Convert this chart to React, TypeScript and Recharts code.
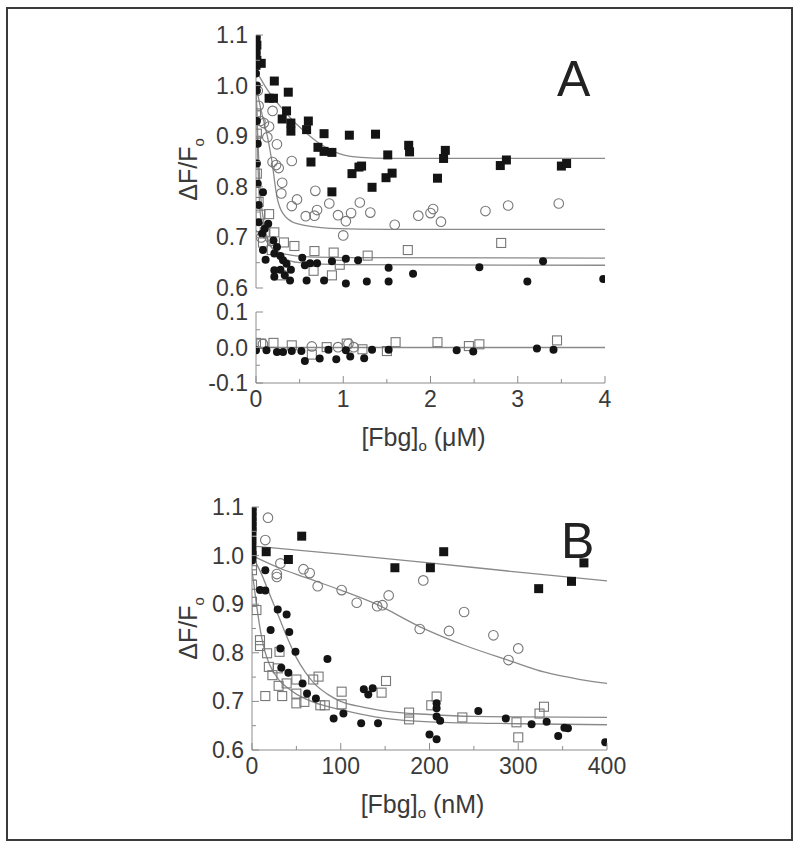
import { ComposedChart, Scatter, Line, XAxis, YAxis } from "recharts"

type Pt = { x: number; y: number }

const AX = "#8c8c8c"
const TXT = "#3a3a3a"
const FONT = "'Liberation Sans', Arial, sans-serif"
const FIT = "#8a8a8a"

const p = (x: number, y: number): Pt => ({ x, y })

// ---- panel A (uM) ----
const aFilledSq = [
  p(0, 1.1), p(0, 1.09), p(0.01, 1.08), p(0, 1.07), p(0, 1.06), p(0.01, 1.05), p(0, 1.04), p(0.06, 1.044),
  p(0.21, 1.009), p(0.15, 0.975), p(0.2, 0.975), p(0.37, 0.987), p(0.35, 0.95), p(0.3, 0.934), p(0.4, 0.926),
  p(0.4, 0.91), p(0.6, 0.93), p(0.58, 0.913), p(0.78, 0.905), p(0.71, 0.878), p(0.78, 0.87), p(0.87, 0.868),
  p(0.63, 0.849), p(1.07, 0.902), p(1.37, 0.904), p(1.1, 0.826), p(1.18, 0.839), p(1.21, 0.841), p(0.87, 0.79),
  p(1.33, 0.799), p(1.51, 0.863), p(1.49, 0.818), p(1.56, 0.827), p(1.75, 0.882), p(1.76, 0.869), p(2.08, 0.817),
  p(2.17, 0.872), p(2.15, 0.856), p(2.8, 0.842), p(2.87, 0.853), p(3.5, 0.841), p(3.56, 0.846),
]
const aOpenCircle = [
  p(0.02, 0.99), p(0.03, 0.96), p(0.05, 0.93), p(0.19, 0.95), p(0.09, 0.926), p(0.15, 0.919), p(0.13, 0.898),
  p(0.24, 0.884), p(0.19, 0.849), p(0.23, 0.843), p(0.26, 0.837), p(0.3, 0.808), p(0.29, 0.787), p(0.41, 0.851),
  p(0.41, 0.762), p(0.47, 0.775), p(0.68, 0.792), p(0.57, 0.742), p(0.67, 0.743), p(0.7, 0.754), p(0.84, 0.767),
  p(0.94, 0.744), p(1.03, 0.732), p(1.09, 0.748), p(1.19, 0.769), p(1.0, 0.704), p(1.31, 0.749), p(1.59, 0.725),
  p(1.86, 0.743), p(2.0, 0.748), p(2.03, 0.756), p(2.12, 0.731), p(2.63, 0.752), p(2.89, 0.763), p(3.47, 0.767),
  p(0.04, 0.72), p(0.06, 0.7),
]
const aOpenSq = [
  p(0, 0.945), p(0.01, 0.905), p(0, 0.89), p(0.01, 0.826), p(0.03, 0.77), p(0.05, 0.745), p(0.15, 0.746),
  p(0.1, 0.71), p(0.21, 0.71), p(0.32, 0.69), p(0.44, 0.683), p(0.67, 0.673), p(0.89, 0.67), p(1.28, 0.664),
  p(1.74, 0.675), p(2.81, 0.689), p(0.66, 0.634), p(0.87, 0.625), p(0.29, 0.625), p(0.96, 0.646), p(0.03, 0.72),
  p(0.08, 0.69), p(0.18, 0.675),
]
const aFilledCircle = [
  p(0, 1.024), p(0.01, 1.0), p(0.01, 0.99), p(0.01, 0.93), p(0.02, 0.885), p(0.01, 0.846), p(0.02, 0.806),
  p(0.08, 0.789), p(0.03, 0.764), p(0.03, 0.73), p(0.07, 0.707), p(0.1, 0.717), p(0.14, 0.727), p(0.08, 0.675),
  p(0.11, 0.656), p(0.2, 0.694), p(0.24, 0.681), p(0.21, 0.668), p(0.28, 0.663), p(0.31, 0.655), p(0.35, 0.648),
  p(0.4, 0.636), p(0.21, 0.635), p(0.21, 0.622), p(0.33, 0.625), p(0.39, 0.615), p(0.28, 0.636), p(0.53, 0.66),
  p(0.56, 0.645), p(0.62, 0.649), p(0.7, 0.649), p(0.58, 0.615), p(0.78, 0.615), p(0.87, 0.653), p(1.03, 0.658),
  p(1.03, 0.609), p(1.17, 0.655), p(1.27, 0.613), p(1.52, 0.64), p(1.52, 0.613), p(1.8, 0.628), p(2.56, 0.641),
  p(3.11, 0.613), p(3.29, 0.653), p(3.98, 0.618),
]
const aFitFilledSq = [
  p(0, 1.03), p(0.1, 1.0), p(0.2, 0.975), p(0.3, 0.955), p(0.4, 0.935), p(0.5, 0.918), p(0.6, 0.903),
  p(0.7, 0.889), p(0.8, 0.878), p(0.9, 0.869), p(1.0, 0.863), p(1.2, 0.858), p(1.5, 0.856), p(4, 0.856),
]
const aFitOpenCircle = [
  p(0, 1.0), p(0.06, 0.95), p(0.13, 0.9), p(0.18, 0.853), p(0.24, 0.78), p(0.31, 0.747), p(0.47, 0.727),
  p(0.85, 0.718), p(1.5, 0.716), p(4, 0.716),
]
const aFitOpenSq = [
  p(0, 1.0), p(0.02, 0.86), p(0.04, 0.77), p(0.07, 0.72), p(0.1, 0.7), p(0.15, 0.685), p(0.25, 0.672),
  p(0.4, 0.665), p(0.7, 0.661), p(1, 0.66), p(4, 0.659),
]
const aFitFilledCircle = [
  p(0, 1.0), p(0.02, 0.9), p(0.04, 0.82), p(0.06, 0.77), p(0.1, 0.72), p(0.15, 0.69), p(0.2, 0.675),
  p(0.3, 0.66), p(0.5, 0.65), p(1, 0.646), p(4, 0.645),
]

// ---- residuals ----
const rOpenSq = [
  p(0, 0.013), p(0.06, 0.011), p(0.2, 0.013), p(0.41, 0.006), p(0.64, -0.02), p(0.81, 0.001), p(1.04, 0.011),
  p(1.22, -0.005), p(1.5, -0.01), p(1.6, 0.015), p(2.08, 0.015), p(2.44, 0.004), p(2.56, 0.009), p(3.45, 0.02),
]
const rOpenCircle = [p(0.08, 0.01), p(0.64, 0.003), p(0.94, 0.001), p(1.06, 0.011), p(1.12, 0.001)]
const rFilledCircle = [
  p(0, -0.008), p(0.12, -0.008), p(0.24, -0.013), p(0.31, -0.013), p(0.41, -0.01), p(0.52, -0.01),
  p(0.56, -0.038), p(0.73, -0.031), p(0.83, -0.006), p(0.92, -0.033), p(1.03, -0.008), p(1.08, -0.025),
  p(1.24, -0.03), p(1.33, -0.006), p(1.52, -0.006), p(2.3, -0.008), p(2.49, -0.011), p(3.22, -0.003), p(3.41, -0.006),
]
const rZero = [p(0, 0), p(4, 0)]

// ---- panel B (nM) ----
const bFilledSq = [
  p(0, 1.1), p(0, 1.09), p(0, 1.08), p(0, 1.07), p(0, 1.06), p(0, 1.05), p(0, 1.03), p(0, 1.01), p(0, 1.0),
  p(16, 1.008), p(41, 0.992), p(56, 1.04), p(161, 0.975), p(201, 0.975), p(216, 1.008), p(323, 0.932),
  p(360, 0.947), p(374, 0.985),
]
const bOpenCircle = [
  p(18, 1.078), p(15, 1.032), p(32, 0.984), p(28, 0.962), p(28, 0.956), p(58, 0.972), p(65, 0.964),
  p(74, 0.937), p(101, 0.929), p(118, 0.903), p(141, 0.896), p(147, 0.898), p(154, 0.918), p(193, 0.949),
  p(189, 0.849), p(222, 0.845), p(239, 0.884), p(272, 0.836), p(289, 0.785), p(300, 0.809),
]
const bFilledCircle = [
  p(0, 1.02), p(0, 1.0), p(0, 0.99), p(15, 0.97), p(9, 0.929), p(15, 0.928), p(21, 0.847), p(29, 0.889),
  p(39, 0.879), p(42, 0.843), p(32, 0.809), p(49, 0.802), p(33, 0.769), p(41, 0.759), p(57, 0.737),
  p(62, 0.716), p(72, 0.706), p(85, 0.787), p(92, 0.665), p(103, 0.675), p(123, 0.655), p(126, 0.725),
  p(131, 0.714), p(136, 0.727), p(142, 0.655), p(200, 0.632), p(208, 0.622), p(208, 0.696), p(208, 0.686),
  p(208, 0.669), p(212, 0.66), p(255, 0.68), p(286, 0.665), p(315, 0.653), p(332, 0.658), p(345, 0.629),
  p(352, 0.646), p(356, 0.645), p(398, 0.616),
]
const bOpenSq = [
  p(0, 0.98), p(0, 0.97), p(0, 0.94), p(0, 0.905), p(5, 0.888), p(9, 0.826), p(9, 0.814), p(17, 0.799),
  p(19, 0.771), p(23, 0.754), p(29, 0.768), p(31, 0.802), p(30, 0.732), p(34, 0.711), p(15, 0.711),
  p(39, 0.737), p(50, 0.745), p(50, 0.716), p(50, 0.696), p(59, 0.699), p(69, 0.745), p(75, 0.751),
  p(77, 0.692), p(82, 0.692), p(101, 0.72), p(101, 0.694), p(146, 0.718), p(151, 0.742), p(177, 0.677),
  p(177, 0.663), p(202, 0.692), p(208, 0.71), p(237, 0.667), p(298, 0.657), p(300, 0.626), p(324, 0.675),
  p(329, 0.689),
]
const bFitFilledSq = [p(0, 1.02), p(100, 1.003), p(200, 0.985), p(300, 0.966), p(400, 0.948)]
const bFitOpenCircle = [
  p(0, 1.0), p(30, 0.975), p(60, 0.955), p(100, 0.929), p(140, 0.9), p(190, 0.853), p(240, 0.815),
  p(290, 0.784), p(330, 0.76), p(370, 0.745), p(400, 0.737),
]
const bFitFilledCircle = [
  p(0, 1.0), p(10, 0.965), p(20, 0.92), p(30, 0.875), p(40, 0.83), p(50, 0.79), p(60, 0.76), p(70, 0.737),
  p(85, 0.715), p(100, 0.7), p(125, 0.688), p(150, 0.68), p(200, 0.673), p(250, 0.669), p(300, 0.668), p(400, 0.667),
]
const bFitOpenSq = [
  p(0, 0.97), p(5, 0.9), p(10, 0.84), p(15, 0.8), p(20, 0.775), p(30, 0.745), p(40, 0.728), p(50, 0.715),
  p(70, 0.698), p(100, 0.683), p(150, 0.665), p(200, 0.658), p(300, 0.654), p(400, 0.652),
]

// ticks
const yTicksMain = [0.6, 0.65, 0.7, 0.75, 0.8, 0.85, 0.9, 0.95, 1.0, 1.05, 1.1]
const yTicksRes = [-0.1, -0.05, 0, 0.05, 0.1]
const xTicksUM = [0, 0.5, 1, 1.5, 2, 2.5, 3, 3.5, 4]
const xTicksNM = [0, 50, 100, 150, 200, 250, 300, 350, 400]

const TICK_FS = 23

const isMajor = (v: number, step: number) => Math.abs(v / step - Math.round(v / step)) < 1e-6

const leftTick = (step: number, fmt: (v: number) => string) => (t: any) => {
  const v = t.payload.value
  const major = isMajor(v, step)
  return (
    <g>
      <line x1={t.x + 8} x2={t.x + 8 + (major ? 7 : 4)} y1={t.y} y2={t.y} stroke={AX} />
      {major && (
        <text x={t.x} y={t.y} dy={8} textAnchor="end" fontSize={TICK_FS} fill={TXT} fontFamily={FONT}>
          {fmt(v)}
        </text>
      )}
    </g>
  )
}
const bottomTick = (step: number, labels: boolean) => (t: any) => {
  const v = t.payload.value
  const major = isMajor(v, step)
  return (
    <g>
      <line x1={t.x} x2={t.x} y1={t.y - 8} y2={t.y - 8 - (major ? 7 : 4)} stroke={AX} />
      {labels && major && (
        <text x={t.x} y={t.y} dy={16} textAnchor="middle" fontSize={TICK_FS} fill={TXT} fontFamily={FONT}>
          {String(v)}
        </text>
      )}
    </g>
  )
}
const topTick = (step: number) => (t: any) => {
  const major = isMajor(t.payload.value, step)
  return <line x1={t.x} x2={t.x} y1={t.y} y2={t.y + (major ? 7 : 4)} stroke={AX} />
}
const rightTick = (step: number) => (t: any) => {
  const major = isMajor(t.payload.value, step)
  return <line x1={t.x} x2={t.x - (major ? 7 : 4)} y1={t.y} y2={t.y} stroke={AX} />
}

const FilledSq = (s: any) => <rect x={s.cx - 4.5} y={s.cy - 4.5} width={9} height={9} fill="#141414" />
const OpenSq = (s: any) => (
  <rect x={s.cx - 4.5} y={s.cy - 4.5} width={9} height={9} fill="none" stroke="#777" strokeWidth={1.1} />
)
const FilledCircle = (s: any) => <circle cx={s.cx} cy={s.cy} r={4} fill="#141414" />
const OpenCircle = (s: any) => <circle cx={s.cx} cy={s.cy} r={4.8} fill="none" stroke="#777" strokeWidth={1.1} />

const yLabel = (dy: number) => (props: any) => {
  const vb = props.viewBox
  const cx = vb.x + 47
  const cy = vb.y + vb.height / 2 + dy
  return (
    <text transform={`translate(${cx},${cy}) rotate(-90)`} textAnchor="middle" fontSize={25} fill={TXT} fontFamily={FONT}>
      ΔF/F<tspan fontSize={15} dy={7}>o</tspan>
    </text>
  )
}
const xLabel = (unit: string) => (props: any) => {
  const vb = props.viewBox
  return (
    <text x={vb.x + vb.width / 2 - 7} y={vb.y + 63} textAnchor="middle" fontSize={25} fill={TXT} fontFamily={FONT}>
      [Fbg]<tspan fontSize={15} dy={5}>o</tspan>
      <tspan dy={-5}> ({unit})</tspan>
    </text>
  )
}

const fitLine = (data: Pt[], key: string) => (
  <Line
    key={key}
    data={data}
    dataKey="y"
    type="monotone"
    dot={false}
    stroke={FIT}
    strokeWidth={1.3}
    isAnimationActive={false}
  />
)

function Frame({ xTicks, xStep, yTicks, yStep, xDomain, yDomain }: any) {
  return [
    <XAxis
      key="top"
      xAxisId="t"
      orientation="top"
      type="number"
      domain={xDomain}
      ticks={xTicks}
      interval={0}
      height={0}
      tickSize={0}
      tickMargin={0}
      allowDataOverflow
      axisLine={{ stroke: AX }}
      tickLine={false}
      tick={topTick(xStep)}
    />,
    <YAxis
      key="right"
      yAxisId="r"
      orientation="right"
      type="number"
      domain={yDomain}
      ticks={yTicks}
      interval={0}
      width={0}
      tickSize={0}
      tickMargin={0}
      allowDataOverflow
      axisLine={{ stroke: AX }}
      tickLine={false}
      tick={rightTick(yStep)}
    />,
  ]
}

export default function App() {
  return (
    <div style={{ fontFamily: FONT }}>
      <div
        style={{
          position: "absolute",
          left: 6,
          top: 7,
          width: 787,
          height: 834,
          boxSizing: "border-box",
          border: "2px solid #3a3a3a",
        }}
      />

      {/* panel A */}
      <div style={{ position: "absolute", left: 150, top: 20 }}>
        <ComposedChart width={490} height={280} margin={{ top: 15, right: 35, bottom: 12, left: 0 }}>
          <XAxis
            dataKey="x"
            type="number"
            domain={[0, 4]}
            ticks={xTicksUM}
            interval={0}
            height={0}
            tickSize={0}
            tickMargin={8}
            allowDataOverflow
            axisLine={{ stroke: AX }}
            tickLine={false}
            tick={bottomTick(1, false)}
          />
          <YAxis
            type="number"
            domain={[0.6, 1.1]}
            ticks={yTicksMain}
            interval={0}
            width={106}
            tickSize={0}
            tickMargin={8}
            allowDataOverflow
            axisLine={{ stroke: AX }}
            tickLine={false}
            tick={leftTick(0.1, (v) => v.toFixed(1))}
            label={{ content: yLabel(8) }}
          />
          {Frame({ xTicks: xTicksUM, xStep: 1, yTicks: yTicksMain, yStep: 0.1, xDomain: [0, 4], yDomain: [0.6, 1.1] })}
          {fitLine(aFitFilledSq, "f1")}
          {fitLine(aFitOpenCircle, "f2")}
          {fitLine(aFitOpenSq, "f3")}
          {fitLine(aFitFilledCircle, "f4")}
          <Scatter data={aOpenCircle} dataKey="y" shape={OpenCircle} isAnimationActive={false} />
          <Scatter data={aOpenSq} dataKey="y" shape={OpenSq} isAnimationActive={false} />
          <Scatter data={aFilledSq} dataKey="y" shape={FilledSq} isAnimationActive={false} />
          <Scatter data={aFilledCircle} dataKey="y" shape={FilledCircle} isAnimationActive={false} />
        </ComposedChart>
      </div>
      <div style={{ position: "absolute", left: 557, top: 54, fontSize: 50, color: "#222", lineHeight: 1 }}>A</div>

      {/* residuals */}
      <div style={{ position: "absolute", left: 150, top: 300 }}>
        <ComposedChart width={490} height={160} margin={{ top: 12, right: 35, bottom: 10, left: 0 }}>
          <XAxis
            dataKey="x"
            type="number"
            domain={[0, 4]}
            ticks={xTicksUM}
            interval={0}
            height={67}
            tickSize={0}
            tickMargin={8}
            allowDataOverflow
            axisLine={{ stroke: AX }}
            tickLine={false}
            tick={bottomTick(1, true)}
            label={{ content: xLabel("μM") }}
          />
          <YAxis
            type="number"
            domain={[-0.1, 0.1]}
            ticks={yTicksRes}
            interval={0}
            width={106}
            tickSize={0}
            tickMargin={8}
            allowDataOverflow
            axisLine={{ stroke: AX }}
            tickLine={false}
            tick={leftTick(0.1, (v) => v.toFixed(1))}
          />
          {Frame({ xTicks: xTicksUM, xStep: 1, yTicks: yTicksRes, yStep: 0.1, xDomain: [0, 4], yDomain: [-0.1, 0.1] })}
          {fitLine(rZero, "z")}
          <Scatter data={rOpenCircle} dataKey="y" shape={OpenCircle} isAnimationActive={false} />
          <Scatter data={rOpenSq} dataKey="y" shape={OpenSq} isAnimationActive={false} />
          <Scatter data={rFilledCircle} dataKey="y" shape={FilledCircle} isAnimationActive={false} />
        </ComposedChart>
      </div>

      {/* panel B */}
      <div style={{ position: "absolute", left: 150, top: 490 }}>
        <ComposedChart width={490} height={340} margin={{ top: 17, right: 33, bottom: 10, left: 0 }}>
          <XAxis
            dataKey="x"
            type="number"
            domain={[0, 400]}
            ticks={xTicksNM}
            interval={0}
            height={70}
            tickSize={0}
            tickMargin={8}
            allowDataOverflow
            axisLine={{ stroke: AX }}
            tickLine={false}
            tick={bottomTick(100, true)}
            label={{ content: xLabel("nM") }}
          />
          <YAxis
            type="number"
            domain={[0.6, 1.1]}
            ticks={yTicksMain}
            interval={0}
            width={102}
            tickSize={0}
            tickMargin={8}
            allowDataOverflow
            axisLine={{ stroke: AX }}
            tickLine={false}
            tick={leftTick(0.1, (v) => v.toFixed(1))}
            label={{ content: yLabel(0) }}
          />
          {Frame({ xTicks: xTicksNM, xStep: 100, yTicks: yTicksMain, yStep: 0.1, xDomain: [0, 400], yDomain: [0.6, 1.1] })}
          {fitLine(bFitFilledSq, "g1")}
          {fitLine(bFitOpenCircle, "g2")}
          {fitLine(bFitFilledCircle, "g3")}
          {fitLine(bFitOpenSq, "g4")}
          <Scatter data={bOpenCircle} dataKey="y" shape={OpenCircle} isAnimationActive={false} />
          <Scatter data={bOpenSq} dataKey="y" shape={OpenSq} isAnimationActive={false} />
          <Scatter data={bFilledSq} dataKey="y" shape={FilledSq} isAnimationActive={false} />
          <Scatter data={bFilledCircle} dataKey="y" shape={FilledCircle} isAnimationActive={false} />
        </ComposedChart>
      </div>
      <div style={{ position: "absolute", left: 561, top: 516, fontSize: 50, color: "#222", lineHeight: 1 }}>B</div>
    </div>
  )
}
